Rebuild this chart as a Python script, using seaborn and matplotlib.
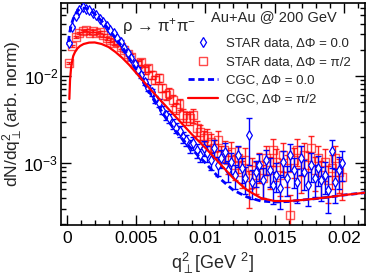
import numpy as np
import matplotlib
matplotlib.use("Agg")
import matplotlib.pyplot as plt
import seaborn as sns
from matplotlib.lines import Line2D
from matplotlib.ticker import FixedLocator, MultipleLocator, NullFormatter

sns.set_theme(style="ticks")
plt.rcParams['font.family'] = ['Liberation Sans', 'DejaVu Sans']
plt.rcParams['mathtext.fontset'] = 'custom'
plt.rcParams['mathtext.rm'] = 'Liberation Sans'
plt.rcParams['mathtext.it'] = 'Liberation Sans:italic'

# q_perp^2 bins of the data (GeV^2)
q2 = [0.000125 + 0.00025 * i for i in range(80)]

# STAR data, dPhi = 0
star_0 = [0.02395, 0.03658, 0.04894, 0.05736, 0.0621, 0.0589, 0.05736, 0.05298, 0.05025, 0.0452,
          0.04175, 0.03756, 0.03379, 0.03121, 0.02734, 0.02459, 0.02098, 0.01838, 0.0161, 0.01374,
          0.01172, 0.01027, 0.00853, 0.00728, 0.00655, 0.00544, 0.00489, 0.00407, 0.00356, 0.00329,
          0.00281, 0.00253, 0.00233, 0.00199, 0.00184, 0.00157, 0.0017, 0.00141, 0.00124, 0.00149,
          0.0013, 0.00108, 0.00149, 0.000948, 0.00114, 0.00134, 0.000831, 0.00103, 0.000728, 0.00124,
          0.000876, 0.000672, 0.0021, 0.000605, 0.000788, 0.000948, 0.000638, 0.00108, 0.000831, 0.000559,
          0.000728, 0.000516, 0.00103, 0.000672, 0.00124, 0.000831, 0.000605, 0.00114, 0.000788, 0.000559,
          0.000948, 0.000672, 0.000876, 0.000638, 0.000728, 0.000489, 0.00137, 0.000605, 0.000831, 0.001]
star_0_rel = [0.02, 0.02, 0.02, 0.02, 0.02, 0.02, 0.02, 0.02, 0.02, 0.02,
              0.03, 0.03, 0.04, 0.04, 0.04, 0.05, 0.05, 0.05, 0.06, 0.06,
              0.07, 0.07, 0.08, 0.08, 0.09, 0.09, 0.10, 0.10, 0.12, 0.12,
              0.13, 0.13, 0.14, 0.15, 0.15, 0.16, 0.17, 0.18, 0.18, 0.20,
              0.20, 0.22, 0.22, 0.25, 0.24, 0.26, 0.28, 0.27, 0.30, 0.28,
              0.32, 0.34, 0.55, 0.36, 0.33, 0.35, 0.38, 0.32, 0.36, 0.40,
              0.37, 0.42, 0.33, 0.38, 0.35, 0.38, 0.42, 0.36, 0.38, 0.42,
              0.36, 0.40, 0.38, 0.42, 0.40, 0.45, 0.36, 0.42, 0.40, 0.38]

# STAR data, dPhi = pi/2
star_90 = [0.01411, 0.02212, 0.02807, 0.03121, 0.0329, 0.03379, 0.03121, 0.0329, 0.03121, 0.03204,
           0.0296, 0.02734, 0.02593, 0.02395, 0.02459, 0.02154, 0.0199, 0.0179, 0.01653, 0.01374,
           0.01374, 0.01449, 0.01172, 0.01236, 0.01027, 0.009, 0.00948, 0.00728, 0.00605, 0.00638,
           0.0053, 0.00429, 0.00477, 0.00356, 0.00329, 0.00329, 0.00356, 0.00253, 0.00227, 0.00194,
           0.00204, 0.00174, 0.00149, 0.00184, 0.00124, 0.00141, 0.00108, 0.00134, 0.000948, 0.00114,
           0.000788, 0.00108, 0.000559, 0.000831, 0.000728, 0.000948, 0.000672, 0.00114, 0.000831, 0.00141,
           0.00103, 0.000728, 0.00124, 0.000876, 0.000253, 0.00108, 0.00141, 0.000788, 0.00124, 0.000948,
           0.00149, 0.000831, 0.00114, 0.000728, 0.00103, 0.000638, 0.000876, 0.00114, 0.000788, 0.00069]
star_90_rel = [0.03, 0.03, 0.03, 0.03, 0.03, 0.03, 0.03, 0.03, 0.03, 0.03,
               0.04, 0.04, 0.05, 0.05, 0.05, 0.06, 0.06, 0.06, 0.07, 0.07,
               0.08, 0.08, 0.09, 0.09, 0.10, 0.10, 0.11, 0.11, 0.12, 0.13,
               0.14, 0.14, 0.15, 0.16, 0.16, 0.17, 0.18, 0.19, 0.20, 0.21,
               0.22, 0.23, 0.24, 0.26, 0.27, 0.28, 0.30, 0.30, 0.32, 0.33,
               0.35, 0.36, 0.45, 0.38, 0.40, 0.38, 0.42, 0.36, 0.40, 0.35,
               0.40, 0.42, 0.36, 0.40, 0.70, 0.38, 0.35, 0.42, 0.38, 0.40,
               0.36, 0.42, 0.38, 0.44, 0.40, 0.45, 0.42, 0.38, 0.42, 0.45]

# CGC curves
cgc_0_x = [0.0001, 0.0002, 0.00035, 0.0005, 0.0007, 0.0009, 0.0011, 0.0014, 0.0017, 0.002,
           0.0025, 0.003, 0.0035, 0.004, 0.0045, 0.005, 0.006, 0.007, 0.008, 0.009,
           0.010, 0.011, 0.012, 0.013, 0.014, 0.015, 0.016, 0.017, 0.018, 0.019,
           0.020, 0.021, 0.0216]
cgc_0_y = [0.02459, 0.03204, 0.04066, 0.04766, 0.0544, 0.0589, 0.06048, 0.0597, 0.0566, 0.0516,
           0.04287, 0.03469, 0.02734, 0.02154, 0.0161, 0.01172, 0.00638, 0.00356, 0.00215, 0.00145,
           0.001, 0.000672, 0.000489, 0.000407, 0.000366, 0.000356, 0.000361, 0.000376, 0.00039, 0.000407,
           0.000429, 0.000446, 0.000458]

cgc_90_x = [0.00017, 0.00022, 0.0003, 0.00036, 0.00045, 0.00058, 0.00075, 0.00094, 0.0012, 0.0016,
            0.002, 0.0025, 0.003, 0.0035, 0.004, 0.0045, 0.005, 0.006, 0.007, 0.008,
            0.009, 0.010, 0.011, 0.012, 0.013, 0.014, 0.015, 0.016, 0.017, 0.018,
            0.019, 0.020, 0.021, 0.0216]
cgc_90_y = [0.00544, 0.0090, 0.01269, 0.01449, 0.01698, 0.01887, 0.0207, 0.02212, 0.02332, 0.0242,
            0.0243, 0.02332, 0.02154, 0.01887, 0.0161, 0.01338, 0.01083, 0.00709, 0.00477, 0.0032,
            0.00215, 0.00149, 0.001, 0.000672, 0.000489, 0.000396, 0.000366, 0.000366, 0.000376, 0.00039,
            0.000407, 0.000429, 0.000446, 0.000458]

q2 = np.array(q2)
star_0 = np.array(star_0)
star_90 = np.array(star_90)

fig = plt.figure(figsize=(3.66, 2.75), dpi=100)
ax = fig.add_axes([61 / 366, 50 / 275, 304 / 366, 222 / 275])

# data, dPhi = pi/2
ax.errorbar(q2, star_90, yerr=star_90 * np.array(star_90_rel), fmt='none',
            ecolor=(1, 0, 0, 0.85), elinewidth=1, capsize=2, capthick=1, zorder=2)
sns.scatterplot(x=q2, y=star_90, marker='s', s=32, facecolor='none',
                edgecolor=(1, 0.05, 0.05, 0.7), linewidth=1, ax=ax, zorder=3)

# data, dPhi = 0
ax.errorbar(q2, star_0, yerr=star_0 * np.array(star_0_rel), fmt='none',
            ecolor='blue', elinewidth=1, capsize=2, capthick=1, zorder=4)
sns.scatterplot(x=q2, y=star_0, marker='d', s=24, facecolor='white',
                edgecolor='blue', linewidth=0.9, ax=ax, zorder=5)

sns.lineplot(x=cgc_0_x, y=cgc_0_y, color='blue', linestyle=(0, (2.2, 1.3)),
             linewidth=2, ax=ax, zorder=6)
sns.lineplot(x=cgc_90_x, y=cgc_90_y, color='red', linewidth=1.6, ax=ax, zorder=7)

ax.set_yscale('log')
ax.set_xlim(-0.000433, 0.02152)
ax.set_ylim(1.94e-4, 0.069)

ax.xaxis.set_major_locator(FixedLocator([0, 0.005, 0.01, 0.015, 0.02]))
ax.set_xticklabels(['0', '0.005', '0.01', '0.015', '0.02'])
ax.xaxis.set_minor_locator(MultipleLocator(0.001))
ax.yaxis.set_minor_formatter(NullFormatter())

ax.tick_params(which='both', direction='in', top=True, right=True, colors='black',
               labelsize=12.5, width=1)
ax.tick_params(which='major', length=7, pad=4)
ax.tick_params(axis='y', which='major', pad=2)
ax.tick_params(which='minor', length=3.5)
for sp in ax.spines.values():
    sp.set_linewidth(1.2)
    sp.set_color('black')

ax.set_xlabel(r'$\mathrm{q^{2}_{\perp}}$[GeV $^{2}$]', fontsize=13)
ax.xaxis.set_label_coords(0.5, -0.118)
ax.set_ylabel(r'dN/d$\mathrm{q^{2}_{\perp}}$(arb. norm)', fontsize=12.5)
ax.yaxis.set_label_coords(-0.118, 0.5)

ax.text(0.20, 0.893, r'ρ → π$^{+}$π$^{-}$', transform=ax.transAxes,
        fontsize=12, va='center', ha='left')
ax.text(0.493, 0.937, 'Au+Au @ 200 GeV', transform=ax.transAxes,
        fontsize=10.5, va='center', ha='left')

handles = [
    Line2D([], [], marker='d', color='blue', mfc='white', mew=0.9, ms=5, linestyle='none'),
    Line2D([], [], marker='s', color=(1, 0.05, 0.05, 0.75), mfc='none', mew=1, ms=5.5, linestyle='none'),
    Line2D([], [], color='blue', linestyle=(0, (2.2, 1.3)), linewidth=2),
    Line2D([], [], color='red', linewidth=1.6),
]
labels = ['STAR data, ΔΦ = 0.0', 'STAR data, ΔΦ = π/2', 'CGC, ΔΦ = 0.0', 'CGC, ΔΦ = π/2']
ax.legend(handles, labels, loc='upper left', bbox_to_anchor=(0.418, 0.845),
          frameon=False, fontsize=9.5, handlelength=2.3, handletextpad=0.6,
          labelspacing=0.48, borderpad=0, borderaxespad=0)

fig.savefig('out.png', dpi=100)
